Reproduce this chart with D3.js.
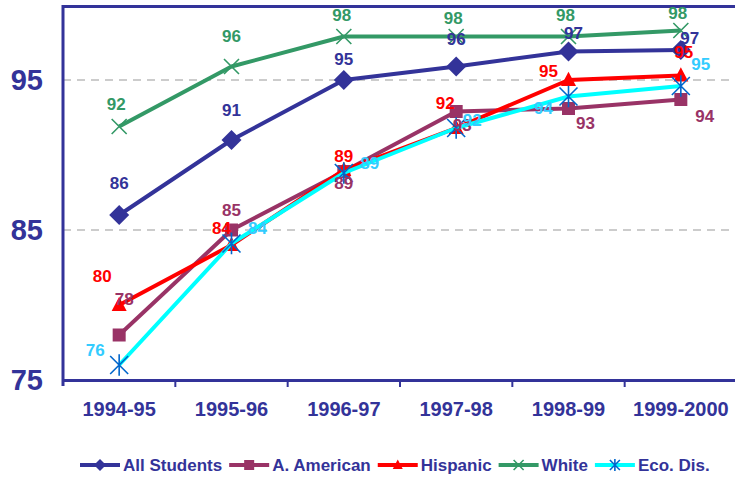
<!DOCTYPE html>
<html>
<head>
<meta charset="utf-8">
<script src="https://cdn.jsdelivr.net/npm/d3@7"></script>
<style>
  html, body { margin: 0; padding: 0; background: #fff; }
  svg { display: block; font-family: "Liberation Sans", Arial, sans-serif; font-weight: bold; }
</style>
</head>
<body>
<svg id="chart" width="735" height="478"></svg>
<script>
const categories = ["1994-95", "1995-96", "1996-97", "1997-98", "1998-99", "1999-2000"];
const allStudents = [86, 91, 95, 95.9, 96.9, 97];
const aAmerican   = [78, 85, 88.9, 92.9, 93.1, 93.7];
const hispanic    = [80, 84, 89, 91.8, 95, 95.3];
const white       = [91.9, 95.9, 97.9, 97.9, 97.9, 98.3];
const ecoDis      = [76, 84.1, 88.8, 91.8, 93.9, 94.6];
const yTicks = [75, 85, 95];

// label nudges (layout only), per point [dx, dy]
const labelNudge = {
  "All Students": [[0,-32],[0,-30],[0,-21],[0,-27],[5,-18],[9,-12]],
  "A. American":  [[5,-36],[0,-20],[0,12],[6,14],[17,15],[24,17]],
  "Hispanic":     [[-17,-29],[-10,-17],[0,-14],[-11,-25],[-20,-9],[3,-23]],
  "White":        [[-3,-22],[0,-30],[-2,-21],[-3,-18],[-3,-21],[-3,-17]],
  "Eco. Dis.":    [[-24,-15],[26,-15],[26,-10],[16,-8],[-25,12],[20,-22]]
};

const series = [
  { name: "All Students", values: allStudents, line: "#333399", mark: "#333399", label: "#333399", shape: "diamond" },
  { name: "A. American",  values: aAmerican,   line: "#993366", mark: "#993366", label: "#993366", shape: "square" },
  { name: "Hispanic",     values: hispanic,    line: "#ff0000", mark: "#ff0000", label: "#ff0000", shape: "triangle" },
  { name: "White",        values: white,       line: "#339966", mark: "#339966", label: "#339966", shape: "x" },
  { name: "Eco. Dis.",    values: ecoDis,      line: "#00ffff", mark: "#0066cc", label: "#33ccff", shape: "star" }
];

const svg = d3.select("#chart");
const pLeft = 63, pRight = 737, pTop = 5, pBottom = 380;

const x = d3.scaleBand().domain(categories).range([pLeft, pRight]).padding(0);
const cx = c => x(c) + x.bandwidth() / 2;
const y = d3.scaleLinear().domain([75, 100]).range([pBottom, pTop]);

// gridlines
svg.append("g").selectAll("line").data(yTicks.filter(t => t > 75)).join("line")
  .attr("x1", pLeft).attr("x2", pRight)
  .attr("y1", d => y(d)).attr("y2", d => y(d))
  .attr("stroke", "#999").attr("stroke-width", 1.2).attr("stroke-dasharray", "8,6");

// plot border (top, left)
svg.append("line").attr("x1", pLeft).attr("x2", pRight).attr("y1", y(100) + 1.5).attr("y2", y(100) + 1.5)
  .attr("stroke", "#333399").attr("stroke-width", 3);
svg.append("line").attr("x1", pLeft).attr("x2", pLeft).attr("y1", y(100)).attr("y2", pBottom + 6)
  .attr("stroke", "#333399").attr("stroke-width", 3);

// x axis
const xAxis = svg.append("g").attr("transform", `translate(0,${pBottom})`)
  .call(d3.axisBottom(x).tickSize(0).tickPadding(22));
xAxis.select(".domain").attr("stroke", "#333399").attr("stroke-width", 3);
xAxis.selectAll("text").attr("fill", "#333399").attr("font-size", 20)
  .attr("font-family", "Liberation Sans, Arial, sans-serif").attr("font-weight", "bold");
svg.append("g").selectAll("line").data(categories.slice(1)).join("line")
  .attr("x1", d => x(d)).attr("x2", d => x(d))
  .attr("y1", pBottom).attr("y2", pBottom + 7)
  .attr("stroke", "#333399").attr("stroke-width", 2);

// y axis labels
const yAxis = svg.append("g").attr("transform", `translate(${pLeft},0)`)
  .call(d3.axisLeft(y).tickValues(yTicks).tickSize(0).tickPadding(20));
yAxis.select(".domain").remove();
yAxis.selectAll("text").attr("fill", "#333399").attr("font-size", 29)
  .attr("font-family", "Liberation Sans, Arial, sans-serif").attr("font-weight", "bold");

function drawMarker(g, shape, color, s) {
  if (shape === "diamond") {
    g.append("path").attr("d", `M0,${-s}L${s},0L0,${s}L${-s},0Z`).attr("fill", color);
  } else if (shape === "square") {
    g.append("rect").attr("x", -s).attr("y", -s).attr("width", 2 * s).attr("height", 2 * s).attr("fill", color);
  } else if (shape === "triangle") {
    g.append("path").attr("d", `M0,${-s * 1.1}L${s},${s * 0.8}L${-s},${s * 0.8}Z`).attr("fill", color);
  } else if (shape === "x") {
    g.append("path").attr("d", `M${-s},${-s}L${s},${s}M${-s},${s}L${s},${-s}`)
      .attr("stroke", color).attr("stroke-width", 1.6).attr("fill", "none");
  } else if (shape === "star") {
    g.append("path").attr("d", `M${-s},${-s}L${s},${s}M${-s},${s}L${s},${-s}M0,${-s * 1.2}L0,${s * 1.2}`)
      .attr("stroke", color).attr("stroke-width", 1.6).attr("fill", "none");
  }
}

const markerSize = { diamond: 10, square: 6.5, triangle: 7.5, x: 7.5, star: 9 };

const line = d3.line().x((d, i) => cx(categories[i])).y(d => y(d));

series.forEach(s => {
  const g = svg.append("g");
  g.append("path").datum(s.values).attr("d", line)
    .attr("fill", "none").attr("stroke", s.line).attr("stroke-width", 4).attr("stroke-linejoin", "round");
  s.values.forEach((v, i) => {
    const mg = g.append("g").attr("transform", `translate(${cx(categories[i])},${y(v)})`);
    drawMarker(mg, s.shape, s.mark, markerSize[s.shape]);
  });
});

// data labels on top
series.forEach(s => {
  svg.append("g").selectAll("text").data(s.values).join("text")
    .attr("x", (d, i) => cx(categories[i]) + labelNudge[s.name][i][0])
    .attr("y", (d, i) => y(d) + labelNudge[s.name][i][1])
    .attr("text-anchor", "middle").attr("dominant-baseline", "central")
    .attr("fill", s.label).attr("font-size", 17)
    .text(d => d3.format(".0f")(d));
});

// legend
const legend = svg.append("g").attr("transform", "translate(80,465)");
let lx = 0;
series.forEach(s => {
  const g = legend.append("g").attr("transform", `translate(${lx},0)`);
  g.append("line").attr("x1", 0).attr("x2", 40).attr("y1", 0).attr("y2", 0)
    .attr("stroke", s.line).attr("stroke-width", 4);
  const mg = g.append("g").attr("transform", "translate(20,0)");
  drawMarker(mg, s.shape, s.mark, s.shape === "diamond" ? 6 : 5);
  const t = g.append("text").attr("x", 43).attr("y", 0).attr("dominant-baseline", "central")
    .attr("fill", "#333399").attr("font-size", 17).text(s.name);
  lx += 43 + t.node().getComputedTextLength() + 7;
});
</script>
</body>
</html>
